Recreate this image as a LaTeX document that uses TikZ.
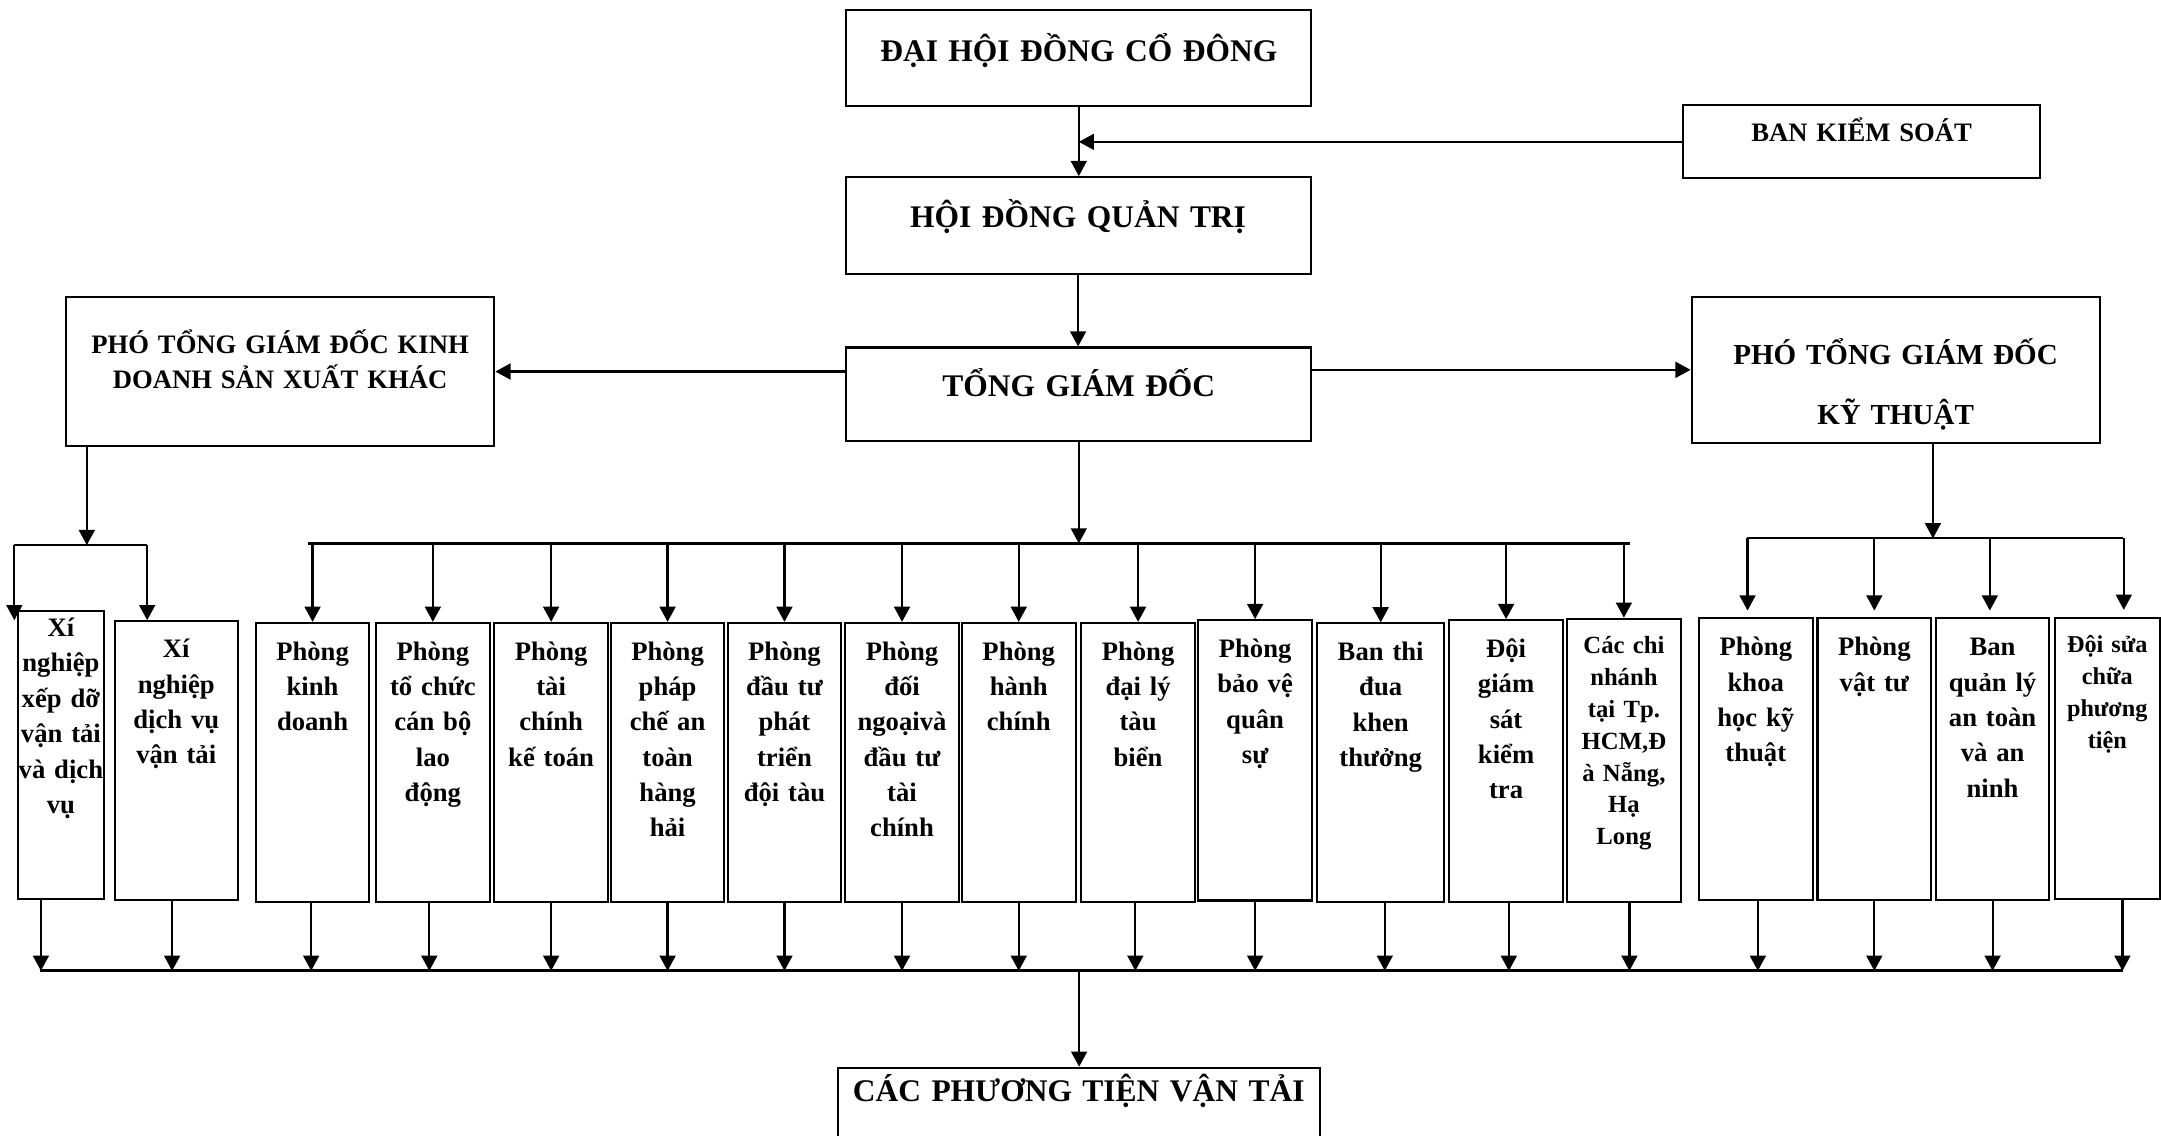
\documentclass[tikz,border=0pt]{standalone}
\usepackage{fontspec}
\setmainfont{Liberation Serif}
\usepackage{tikz}
\usetikzlibrary{arrows.meta,positioning,calc}

\begin{document}
\begin{tikzpicture}[
    x=0.02cm, y=-0.02cm,
    head/.style={rectangle, draw, line width=0.85pt, anchor=north west, inner sep=0pt, align=center, font=\bfseries\fontsize{13}{16}\selectfont},
    dept/.style={rectangle, draw, line width=0.85pt, anchor=north west, inner sep=0pt, align=center, text width=1.65cm, text height=0.54cm, text depth=3.51cm, font=\bfseries\fontsize{11}{14.6}\selectfont},
    smalltext/.style={font=\bfseries\fontsize{10.2}{13.2}\selectfont},
    arrow/.style={->, >={Triangle[length=0.22cm,width=0.23cm]}, line width=0.9pt},
    link/.style={line width=0.9pt},
    bus/.style={line width=1.2pt}
]
\useasboundingbox (0,0) rectangle (1568,824);

% Top levels
\node[head, text width=6.75cm, text height=0.75cm, text depth=0.65cm] (dhdcd) at (613.3,6.2) {ĐẠI HỘI ĐỒNG CỔ ĐÔNG};
\node[head, font=\bfseries\fontsize{11}{13}\selectfont, text width=5.19cm, text height=0.53cm, text depth=0.53cm] (bks) at (1220.3,75.7) {BAN KIỂM SOÁT};
\node[head, text width=6.75cm, text height=0.73cm, text depth=0.68cm] (hdqt) at (612.8,127.8) {HỘI ĐỒNG QUẢN TRỊ};
\node[head, text width=6.75cm, text height=0.71cm, text depth=0.65cm] (tgd) at (613.3,251.4) {TỔNG GIÁM ĐỐC};

% Deputy directors
\node[head, font=\bfseries\fontsize{11}{14.4}\selectfont, text width=6.22cm, text height=0.82cm, text depth=1.35cm] (ptgdkd) at (47,214.6) {PHÓ TỔNG GIÁM ĐỐC KINH\\DOANH SẢN XUẤT KHÁC};
\node[head, font=\bfseries\fontsize{12}{24.7}\selectfont, text width=5.92cm, text height=0.98cm, text depth=1.14cm] (ptgdkt) at (1226.7,214.6) {PHÓ TỔNG GIÁM ĐỐC\\KỸ THUẬT};

% Units under Phó TGĐ kinh doanh
\node[dept, text width=1.25cm, text height=0.37cm, text depth=3.81cm] (xnxd) at (12.2,442.7) {Xí\\nghiệp\\xếp dỡ\\vận tải\\và dịch\\vụ};
\node[dept, text width=1.79cm, text height=0.53cm, text depth=3.51cm] (xndv) at (82.4,450) {Xí\\nghiệp\\dịch vụ\\vận tải};

% Departments under Tổng giám đốc
\node[dept] (pkdoanh) at (184.8,451.2) {Phòng\\kinh\\doanh};
\node[dept] (ptccb) at (272.1,451.2) {Phòng\\tổ chức\\cán bộ\\lao\\động};
\node[dept] (ptckt) at (357.9,451.2) {Phòng\\tài\\chính\\kế toán};
\node[dept] (ppc) at (442.4,451.2) {Phòng\\pháp\\chế an\\toàn\\hàng\\hải};
\node[dept] (pdt) at (527.2,451.2) {Phòng\\đầu tư\\phát\\triển\\đội tàu};
\node[dept] (pdn) at (612.5,451.2) {Phòng\\đối\\ngoạivà\\đầu tư\\tài\\chính};
\node[dept] (phc) at (697.2,451.2) {Phòng\\hành\\chính};
\node[dept] (pdl) at (783.8,451.2) {Phòng\\đại lý\\tàu\\biển};
\node[dept, text depth=3.53cm] (pbv) at (868.7,449.2) {Phòng\\bảo vệ\\quân\\sự};
\node[dept, text width=1.85cm] (btd) at (954.8,451.6) {Ban thi\\đua\\khen\\thưởng};
\node[dept, text depth=3.55cm] (dgs) at (1050.8,449.2) {Đội\\giám\\sát\\kiểm\\tra};
\node[dept, smalltext, text height=0.5cm, text depth=3.61cm] (ccn) at (1136.3,448.2) {Các chi\\nhánh\\tại Tp.\\HCM,Đ\\à Nẵng,\\Hạ\\Long};

% Units under Phó TGĐ kỹ thuật
\node[dept, text depth=3.55cm] (pkh) at (1232,448) {Phòng\\khoa\\học kỹ\\thuật};
\node[dept, text depth=3.55cm] (pvt) at (1318,448) {Phòng\\vật tư};
\node[dept, text depth=3.55cm] (bql) at (1403.8,448) {Ban\\quản lý\\an toàn\\và an\\ninh};
\node[dept, font=\bfseries\fontsize{10}{13.2}\selectfont, text width=1.53cm, text height=0.51cm, text depth=3.57cm] (dsc) at (1490,447.5) {Đội sửa\\chữa\\phương\\tiện};

% Bottom
\node[head, text width=7cm, text height=0.49cm, text depth=1.2cm] (ptvt) at (607,774) {CÁC PHƯƠNG TIỆN VẬN TẢI};

% Bus junctions
\coordinate (busL) at (63,395.5);
\coordinate (busL1) at (10.4,395.5);
\coordinate (busL2) at (106.8,395.5);
\coordinate (busM) at (782,394.3);
\coordinate (busM1) at (223.4,394.3);
\coordinate (busM2) at (1183,394.3);
\coordinate (busR) at (1402.5,390.6);
\coordinate (busR1) at (1267.5,390.6);
\coordinate (busR2) at (1540.2,390.6);
\coordinate (busB) at (783,704.4);
\coordinate (busB1) at (29,704.4);
\coordinate (busB2) at (1540.6,704.4);

% Arrows, top part
\draw[arrow] (dhdcd.south) -- (dhdcd.south |- hdqt.north);
\draw[arrow] (bks.west) -- (bks.west -| dhdcd.south);
\draw[arrow] (hdqt.south) -- (hdqt.south |- tgd.north);
\draw[arrow] (ptgdkd.east -| tgd.west) -- (ptgdkd.east);
\draw[arrow] (ptgdkt.west -| tgd.east) -- (ptgdkt.west);
\draw[arrow] (tgd.south) -- (tgd.south |- busM);
\draw[arrow] (busL |- ptgdkd.south) -- (busL);
\draw[arrow] (busR |- ptgdkt.south) -- (busR);

% Branches to units
\draw[link] (busL1) -- (busL2);
\draw[arrow] (busL1) -- (busL1 |- xndv.north);
\draw[arrow] (busL2) -- (busL2 |- xndv.north);
\draw[link] (busM1) -- (busM2);
\foreach \n in {pkdoanh,ptccb,ptckt,ppc,pdt,pdn,phc,pdl,pbv,btd,dgs,ccn}
  \draw[arrow] (\n.north |- busM) -- (\n.north);
\draw[link] (busR1) -- (busR2);
\foreach \n/\dx in {pkh/-6,pvt/0,bql/-2,dsc/12}
  \draw[arrow, shorten >=0.1cm] ([xshift=\dx*0.02cm]\n.north |- busR) -- ([xshift=\dx*0.02cm]\n.north);

% Units to vehicles
\foreach \n/\dx in {xnxd/-14.5,xndv/-3,pkdoanh/-1,ptccb/-2.6,ptckt/0,ppc/0,pdt/0,pdn/0,phc/0,pdl/-2,pbv/0,btd/3,dgs/2,ccn/4,pkh/1.5,pvt/0,bql/0,dsc/11}
  \draw[arrow] ([xshift=\dx*0.02cm]\n.south) -- ([xshift=\dx*0.02cm]\n.south |- busB);
\draw[bus] (busB1) -- (busB2);
\draw[arrow] (busB) -- (busB |- ptvt.north);

\end{tikzpicture}
\end{document}
